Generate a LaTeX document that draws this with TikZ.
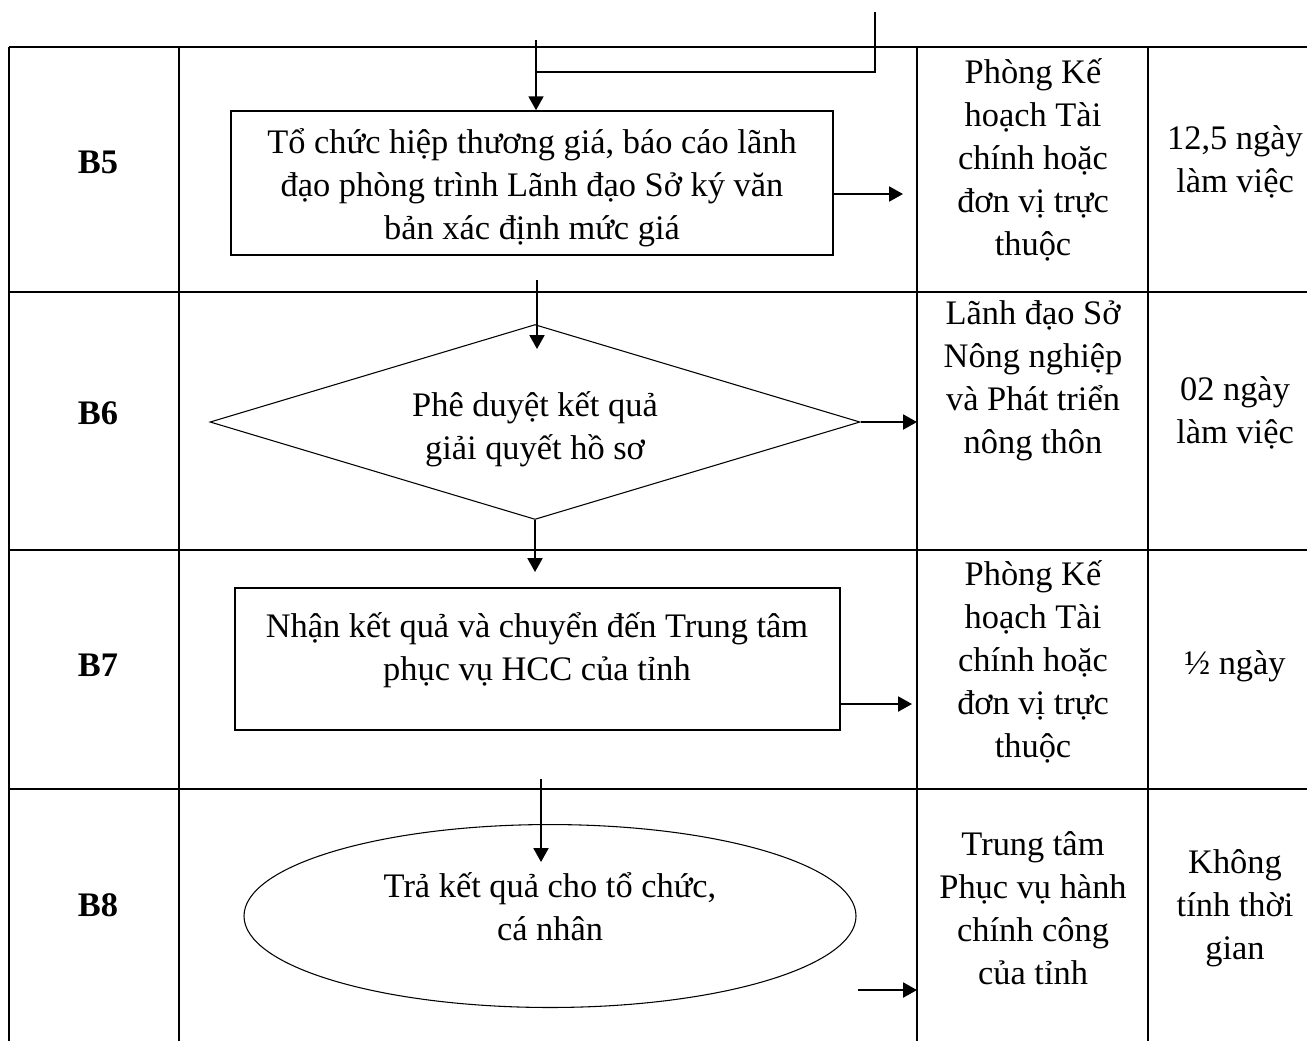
\documentclass[tikz,border=0pt]{standalone}
\usepackage{fontspec}
\setmainfont{Liberation Serif}
\usetikzlibrary{arrows.meta,shapes.geometric}

\begin{document}
\begin{tikzpicture}[x=0.375pt,y=-0.375pt,
  grid/.style={line width=0.75pt},
  wire/.style={line width=0.75pt},
  flow/.style={line width=0.75pt,-{Triangle[length=5.2pt,width=5.6pt]}},
  txt/.style={align=center,font=\fontsize{12.9}{16.1}\selectfont,inner sep=0pt},
  lbl/.style={font=\fontsize{12.9}{16.1}\selectfont\bfseries,inner sep=0pt},
  stepbox/.style={draw,line width=0.6pt,rectangle,inner sep=0pt},
  decide/.style={draw,line width=0.4pt,diamond,inner sep=0pt},
  finish/.style={draw,line width=0.4pt,ellipse,inner sep=0pt}]
\useasboundingbox (0,0) rectangle (1307,1041);

% table grid
\draw[grid] (9,47) -- (1307,47);
\draw[grid] (9,292) -- (1307,292);
\draw[grid] (9,550) -- (1307,550);
\draw[grid] (9,789) -- (1307,789);
\foreach \x in {9,179,917,1148} \draw[grid] (\x,47) -- (\x,1041);

% step labels
\node[lbl] (b5) at (98,162) {B5};
\node[lbl] (b6) at (98,413) {B6};
\node[lbl] (b7) at (98,665) {B7};
\node[lbl] (b8) at (98,905) {B8};

% flow shapes
\node[stepbox,minimum width=225.75pt,minimum height=54pt] (s5) at (532,183) {};
\node[txt] (t5) at (532,188) {Tổ chức hiệp thương giá, báo cáo lãnh\\đạo phòng trình Lãnh đạo Sở ký văn\\bản xác định mức giá};
\node[decide,minimum width=243.75pt,minimum height=73.1pt] (d6) at (535,422) {};
\node[txt] (t6) at (535,429) {Phê duyệt kết quả\\giải quyết hồ sơ};
\node[stepbox,minimum width=226.9pt,minimum height=53.25pt] (s7) at (537.5,659) {};
\node[txt] (t7) at (537,650) {Nhận kết quả và chuyển đến Trung tâm\\phục vụ HCC của tỉnh};
\node[finish,minimum width=229.5pt,minimum height=68.6pt] (e8) at (550,916) {};
\node[txt] (t8) at (550,907) {Trả kết quả cho tổ chức,\\cá nhân};

% responsible unit
\node[txt] (r5) at (1033,160) {Phòng Kế\\hoạch Tài\\chính hoặc\\đơn vị trực\\thuộc};
\node[txt] (r6) at (1033,381) {Lãnh đạo Sở\\Nông nghiệp\\và Phát triển\\nông thôn};
\node[txt] (r7) at (1033,662) {Phòng Kế\\hoạch Tài\\chính hoặc\\đơn vị trực\\thuộc};
\node[txt] (r8) at (1033,908) {Trung tâm\\Phục vụ hành\\chính công\\của tỉnh};

% time
\node[txt] (m5) at (1235,162) {12,5 ngày\\làm việc};
\node[txt] (m6) at (1235,413) {02 ngày\\làm việc};
\node[txt] (m7) at (1235,666) {½ ngày};
\node[txt] (m8) at (1235,908) {Không\\tính thời\\gian};

% connector points
\coordinate (in1) at (875,12);
\coordinate (in2) at (875,72);
\coordinate (in3) at (536,72);
\coordinate (in4) at (536,40);
\coordinate (h5) at (0,194);
\coordinate (o5) at (903,194);
\coordinate (v6a) at (537,280);
\coordinate (v6b) at (537,349);
\coordinate (o6) at (917,422);
\coordinate (k7) at (0,572);
\coordinate (h7) at (0,704);
\coordinate (o7) at (912,704);
\coordinate (v8a) at (541,779);
\coordinate (v8b) at (541,862);
\coordinate (a8) at (858,990);
\coordinate (o8) at (917,990);

% connectors
\draw[wire] (in1) -- (in2) -- (in3);
\draw[flow] (in4) -- (in4 |- s5.north);
\draw[flow] (s5.east |- h5) -- (o5);
\draw[flow] (v6a) -- (v6b);
\draw[flow] (d6.east) -- (o6);
\draw[flow] (d6.south) -- (d6.south |- k7);
\draw[flow] (s7.east |- h7) -- (o7);
\draw[flow] (v8a) -- (v8b);
\draw[flow] (a8) -- (o8);
\end{tikzpicture}
\end{document}
